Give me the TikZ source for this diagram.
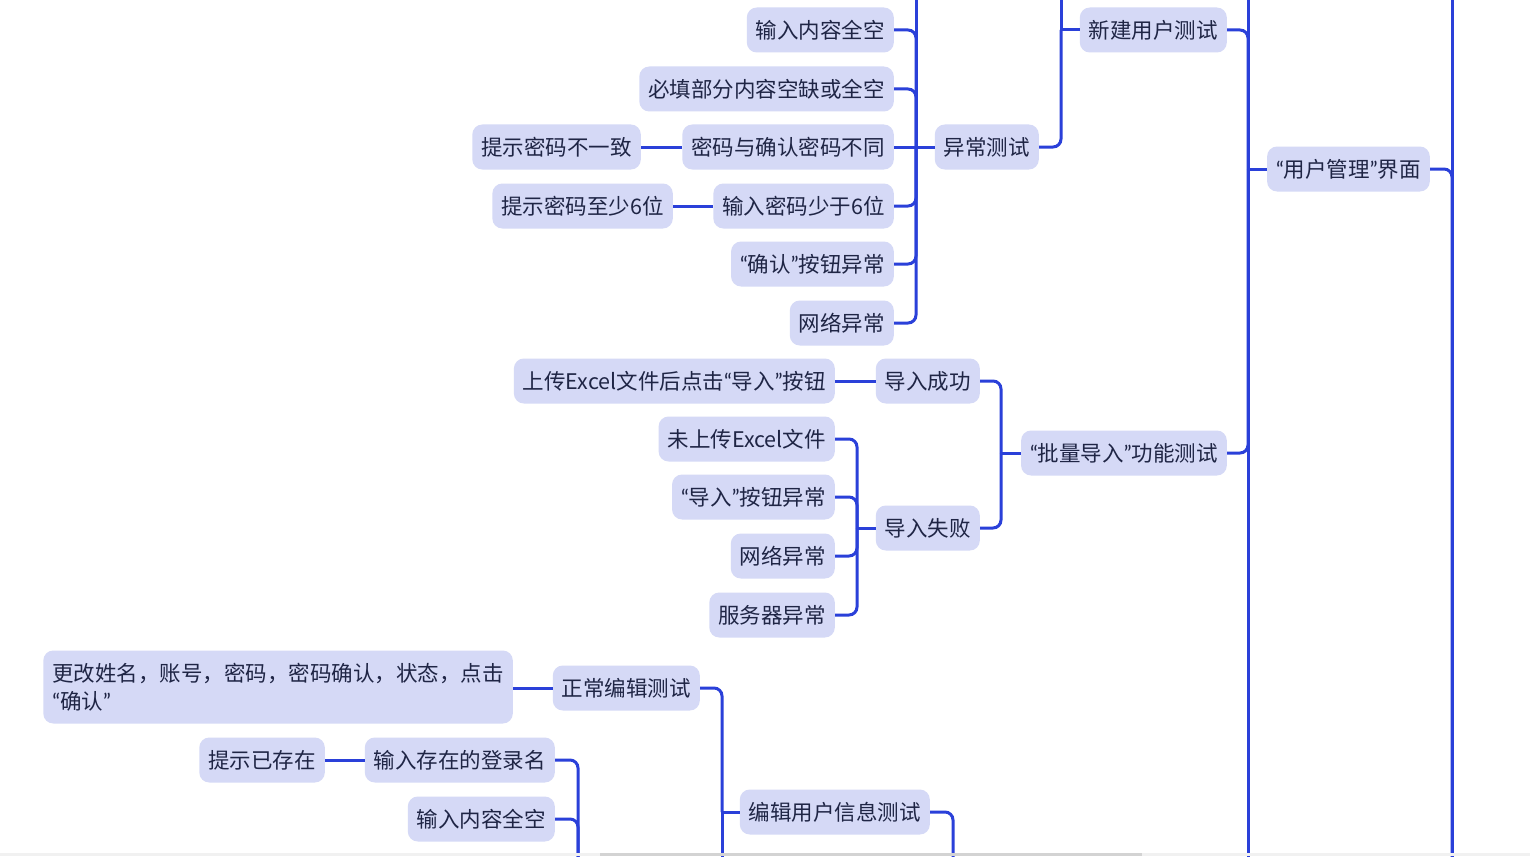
\documentclass[tikz,border=0pt]{standalone}
\usepackage{fontspec}
\setmainfont{Noto Sans CJK SC}
\newfontfamily\latq{Lato}
\newcommand\oq{{\latq “}}
\newcommand\cq{{\latq ”}}
\definecolor{boxfill}{HTML}{D5D9F6}
\definecolor{lnk}{HTML}{2A40D9}
\definecolor{txt}{HTML}{1F2545}
\definecolor{sbar}{HTML}{F1F1F1}
\definecolor{sthumb}{HTML}{D3D3D3}
\begin{document}
\begin{tikzpicture}[x=1pt,y=-1pt,
  box/.style={fill=boxfill, rounded corners=10pt, inner xsep=9pt, inner ysep=0pt,
    minimum height=45pt, text=txt, font=\fontsize{21.5}{28}\selectfont, anchor=east},
  link/.style={draw=lnk, line width=3pt, rounded corners=8pt}]
\useasboundingbox (0,0) rectangle (1530,856);
\clip (0,0) rectangle (1530,856);
\fill[white] (0,0) rectangle (1530,856);

% nodes
\node[box] (a1) at (894,30) {输入内容全空};
\node[box] (a2) at (894,89) {必填部分内容空缺或全空};
\node[box] (a3) at (894,147) {密码与确认密码不同};
\node[box] (a3t) at (641,147) {提示密码不一致};
\node[box] (a4) at (894,206) {输入密码少于6位};
\node[box] (a4t) at (673,206) {提示密码至少6位};
\node[box] (a5) at (894,264) {\oq 确认\cq 按钮异常};
\node[box] (a6) at (894,323) {网络异常};
\node[box] (yc) at (1039,147) {异常测试};
\node[box] (xj) at (1227,30) {新建用户测试};
\node[box] (ui) at (1430,169) {\oq 用户管理\cq 界面};
\node[box] (pl) at (1227,453) {\oq 批量导入\cq 功能测试};
\node[box] (cg) at (980,381) {导入成功};
\node[box] (up) at (835,381) {上传Excel文件后点击\oq 导入\cq 按钮};
\node[box] (sb) at (980,528) {导入失败};
\node[box] (b1) at (835,439) {未上传Excel文件};
\node[box] (b2) at (835,497) {\oq 导入\cq 按钮异常};
\node[box] (b3) at (835,556) {网络异常};
\node[box] (b4) at (835,615) {服务器异常};
\node[box] (ed) at (930,812) {编辑用户信息测试};
\node[box] (zc) at (700,688) {正常编辑测试};
\node[box, minimum height=73pt, align=left] (gg) at (513,687) {更改姓名，账号，密码，密码确认，状态，点击\\\oq 确认\cq};
\node[box] (c1) at (555,760) {输入存在的登录名};
\node[box] (c1t) at (325,760) {提示已存在};
\node[box] (c2) at (555,819) {输入内容全空};

% trunk coordinates
\coordinate (t1) at (916,147);   \coordinate (t1top) at (916,-10);
\coordinate (t2) at (1061,30);   \coordinate (t2top) at (1061,-10);
\coordinate (t3) at (1248,169);  \coordinate (t3top) at (1248,-10); \coordinate (t3bot) at (1248,870);
\coordinate (t4) at (1452,169);  \coordinate (t4top) at (1452,-10); \coordinate (t4bot) at (1452,870);
\coordinate (t5) at (1001,453);
\coordinate (t6) at (857,528);
\coordinate (t7) at (722,812);   \coordinate (t7bot) at (722,870);
\coordinate (t8bot) at (578,870);
\coordinate (t9bot) at (953,870);

% connectors
\draw[link] (t1top) -- (t1);
\draw[link] (a1.east) -- (a1.east -| t1) -- (t1);
\draw[link] (a2.east) -- (a2.east -| t1) -- (t1);
\draw[link] (a3.east) -- (yc.west);
\draw[link] (a4.east) -- (a4.east -| t1) -- (t1);
\draw[link] (a5.east) -- (a5.east -| t1) -- (t1);
\draw[link] (a6.east) -- (a6.east -| t1) -- (t1);
\draw[link] (a3t.east) -- (a3.west);
\draw[link] (a4t.east) -- (a4.west);

\draw[link] (t2top) -- (t2);
\draw[link] (xj.west) -- (t2);
\draw[link] (yc.east) -- (yc.east -| t2) -- (t2);

\draw[link] (t3top) -- (t3bot);
\draw[link] (ui.west) -- (t3);
\draw[link] (xj.east) -- (xj.east -| t3) -- (t3);
\draw[link] (pl.east) -- (pl.east -| t3) -- (t3);

\draw[link] (t4top) -- (t4bot);
\draw[link] (ui.east) -- (t4) -- (t4bot);

\draw[link] (pl.west) -- (t5);
\draw[link] (cg.east) -- (cg.east -| t5) -- (t5);
\draw[link] (sb.east) -- (sb.east -| t5) -- (t5);
\draw[link] (up.east) -- (cg.west);

\draw[link] (sb.west) -- (t6);
\draw[link] (b1.east) -- (b1.east -| t6) -- (t6);
\draw[link] (b2.east) -- (b2.east -| t6) -- (t6);
\draw[link] (b3.east) -- (b3.east -| t6) -- (t6);
\draw[link] (b4.east) -- (b4.east -| t6) -- (t6);

\draw[link] (ed.west) -- (t7);
\draw[link] (t7) -- (t7bot);
\draw[link] (zc.east) -- (zc.east -| t7) -- (t7);
\draw[link] (gg.east |- zc.east) -- (zc.west);

\draw[link] (c1t.east) -- (c1.west);
\draw[link] (c1.east) -- (c1.east -| t8bot) -- (t8bot);
\draw[link] (c2.east) -- (c2.east -| t8bot) -- (t8bot);

\draw[link] (ed.east) -- (ed.east -| t9bot) -- (t9bot);

% scrollbar
\fill[sbar] (0,853) rectangle (1530,856);
\fill[sthumb] (600,853) rectangle (1142,856);
\end{tikzpicture}
\end{document}
